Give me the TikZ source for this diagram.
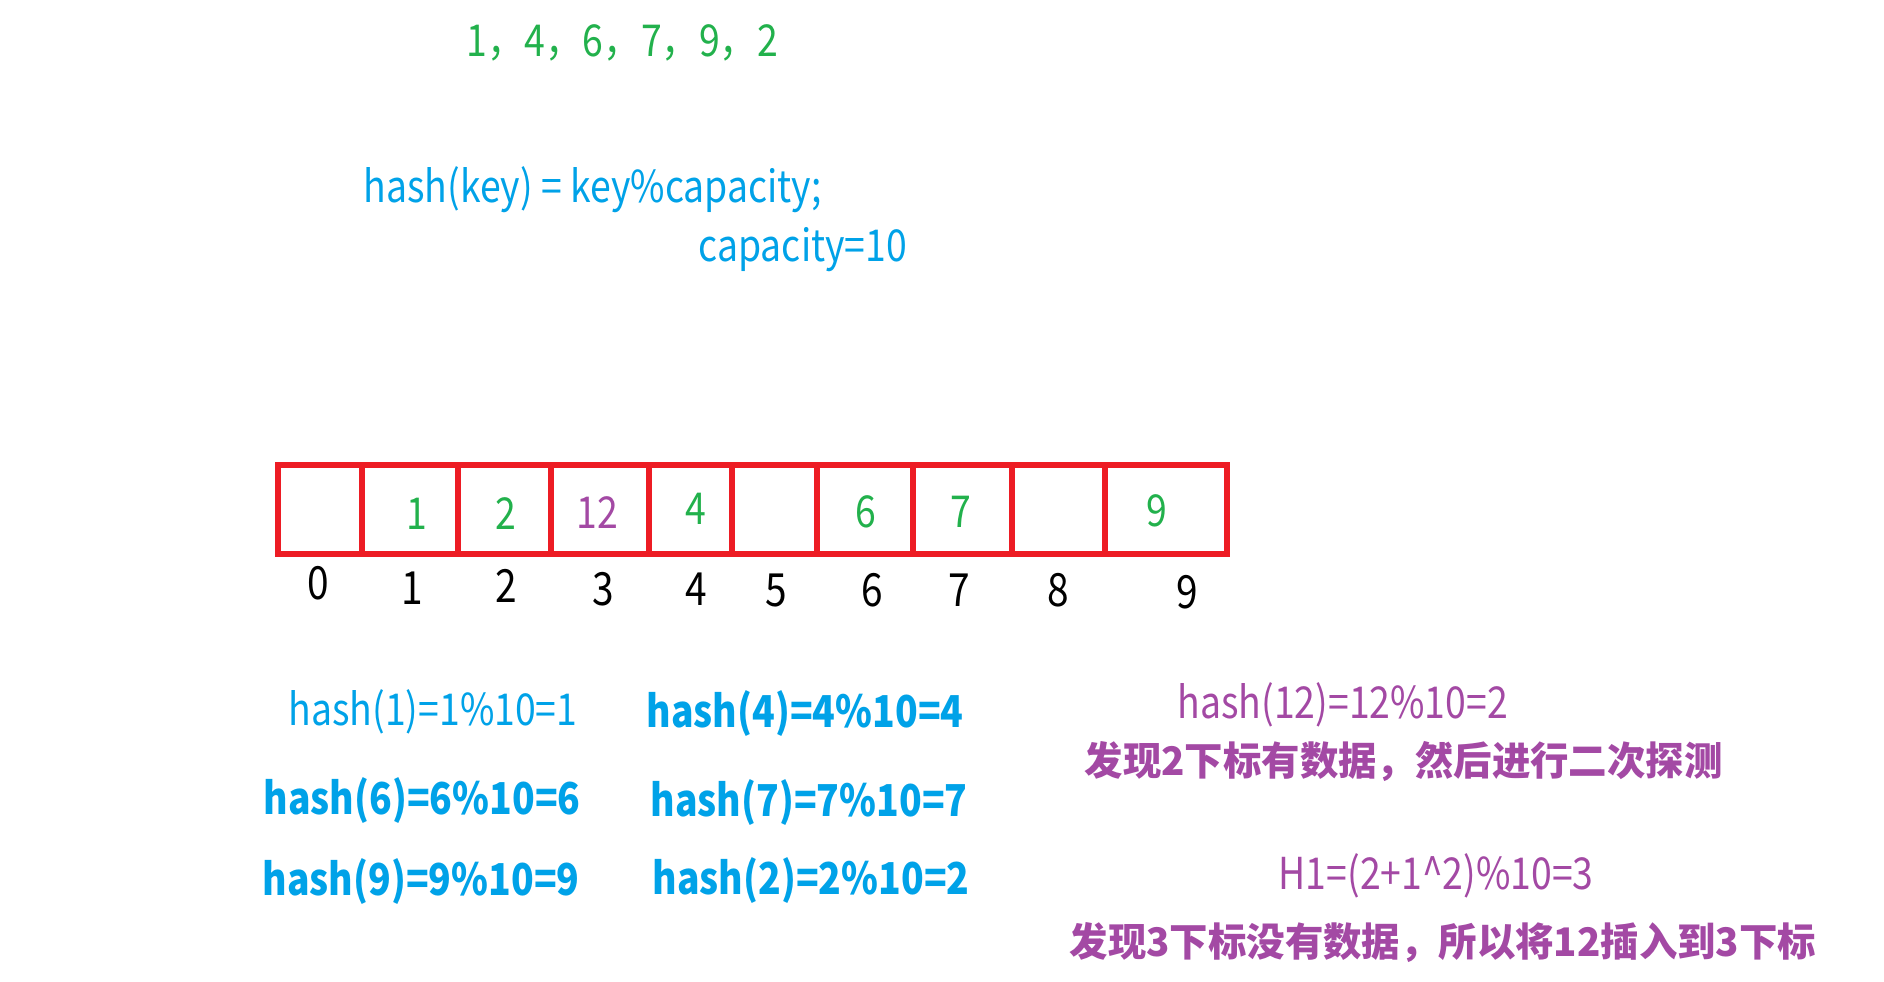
\documentclass[tikz,border=0pt]{standalone}
\usepackage{fontspec}
\setmainfont{Noto Sans CJK SC}
\newfontfamily\narrowfont{Noto Sans CJK SC}[FakeStretch=0.85]
\newfontfamily\cjkfont{Noto Sans CJK SC}[FakeStretch=0.975]
\usetikzlibrary{positioning}
\definecolor{pgreen}{HTML}{22B14C}
\definecolor{pblue}{HTML}{00A2E8}
\definecolor{ppurple}{HTML}{A349A4}
\definecolor{pred}{HTML}{ED1C24}

\begin{document}
\begin{tikzpicture}[x=0.01cm, y=-0.01cm,
    txt/.style={inner sep=0pt, anchor=west, font=\narrowfont\fontsize{12.5}{15}\selectfont},
    txtb/.style={inner sep=0pt, anchor=west, font=\narrowfont\fontsize{12.5}{15}\selectfont\bfseries},
    cjk/.style={inner sep=0pt, anchor=west, text=ppurple, font=\cjkfont\fontsize{11.2}{14}\selectfont\bfseries},
    cell/.style={draw=pred, line width=1.8pt, minimum height=0.89cm, inner sep=0pt, outer sep=0pt},
    val/.style={inner sep=0pt, text=pgreen, font=\narrowfont\fontsize{12.5}{15}\selectfont},
    idx/.style={inner sep=0pt, font=\narrowfont\fontsize{13}{15}\selectfont}]
    \path[fill=white, use as bounding box] (0,0) rectangle (1884,981);

    % keys and hash function
    \node[txt, text=pgreen] (keys) at (466,43) {1，4，6，7，9，2};
    \node[txt, text=pblue] (func) at (363,190) {hash(key)~=~key\%capacity;};
    \node[txt, text=pblue] (cap) at (698,250) {capacity=10};

    % table
    \foreach \i/\l/\r in {0/278/362, 1/362/458, 2/458/551, 3/551/649, 4/649/732,
                          5/732/817, 6/817/913, 7/913/1012, 8/1012/1105, 9/1105/1227}
        \node[cell, minimum width={(\r-\l)*0.01cm}] (c\i) at ({(\l+\r)/2},509.5) {};
    \foreach \i/\x/\y in {1/417/514, 2/506/514, 4/696/509, 6/866/512, 7/961/512, 9/1157/511}
        \node[val] (v\i) at (\x,\y) {\i};
    \node[val, text=ppurple] (v12) at (597,513) {12};
    \foreach \i/\x/\y in {0/318/583, 1/412/588, 2/506/586, 3/603/589, 4/696/589,
                          5/776/590, 6/872/590, 7/959/590, 8/1058/590, 9/1187/592}
        \node[idx] (n\i) at (\x,\y) {\i};

    % hash values
    \node[txt, text=pblue] (h1) at (288,712) {hash(1)=1\%10=1};
    \node[txtb, text=pblue] (h4) at (646,714) {hash(4)=4\%10=4};
    \node[txtb, text=pblue] (h6) at (263,801) {hash(6)=6\%10=6};
    \node[txtb, text=pblue] (h7) at (650,803) {hash(7)=7\%10=7};
    \node[txtb, text=pblue] (h9) at (262,882) {hash(9)=9\%10=9};
    \node[txtb, text=pblue] (h2) at (652,881) {hash(2)=2\%10=2};

    % collision of 12
    \node[txt, text=ppurple] (h12) at (1177,705) {hash(12)=12\%10=2};
    \node[cjk] (find2) at (1084,761) {发现2下标有数据，然后进行二次探测};
    \node[txt, text=ppurple] (hh1) at (1278,876) {H1=(2+1\textasciicircum2)\%10=3};
    \node[cjk] (find3) at (1069,943) {发现3下标没有数据，所以将12插入到3下标};
\end{tikzpicture}
\end{document}
